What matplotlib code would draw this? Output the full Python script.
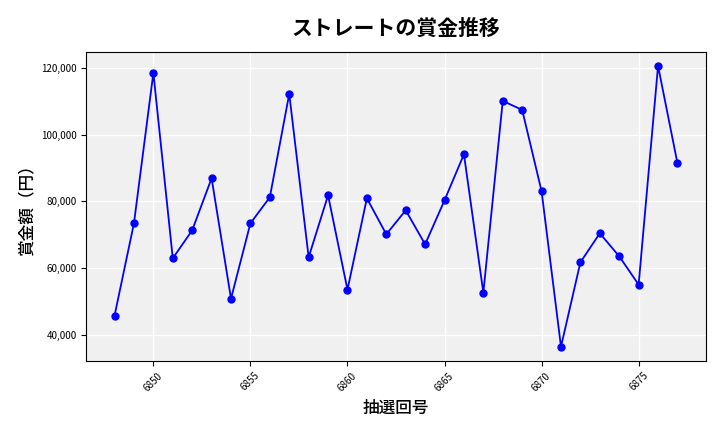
import matplotlib.pyplot as plt
from matplotlib.ticker import FuncFormatter

plt.rcParams['font.family'] = ['Noto Sans CJK JP', 'DejaVu Sans']

draws = list(range(6848, 6878))
prizes = [45700, 73400, 118500, 62900, 71300, 86900, 50800, 73400, 81200, 112200,
          63200, 81800, 53500, 80900, 70100, 77300, 67100, 80300, 94100, 52600,
          110100, 107400, 83000, 36400, 61700, 70400, 63500, 55000, 120600, 91400]

fig, ax = plt.subplots(figsize=(7.2, 4.32), dpi=100)
ax.set_facecolor('#f0f0f0')
ax.grid(True, color='white', linewidth=1)
ax.set_axisbelow(True)
ax.plot(draws, prizes, color='blue', marker='o', markersize=5, linewidth=1.3)
ax.set_title('ストレートの賞金推移', fontsize=15, fontweight='bold', pad=12)
ax.set_xlabel('抽選回号', fontsize=12, fontweight='medium')
ax.set_ylabel('賞金額（円）', fontsize=12, fontweight='medium')
ax.yaxis.set_major_formatter(FuncFormatter(lambda v, p: f'{int(v):,}'))
ax.tick_params(axis='x', labelrotation=45, labelsize=7)
ax.tick_params(axis='y', labelsize=7)
fig.subplots_adjust(left=0.12, right=0.98, top=0.88, bottom=0.165)
fig.savefig('out.png')
